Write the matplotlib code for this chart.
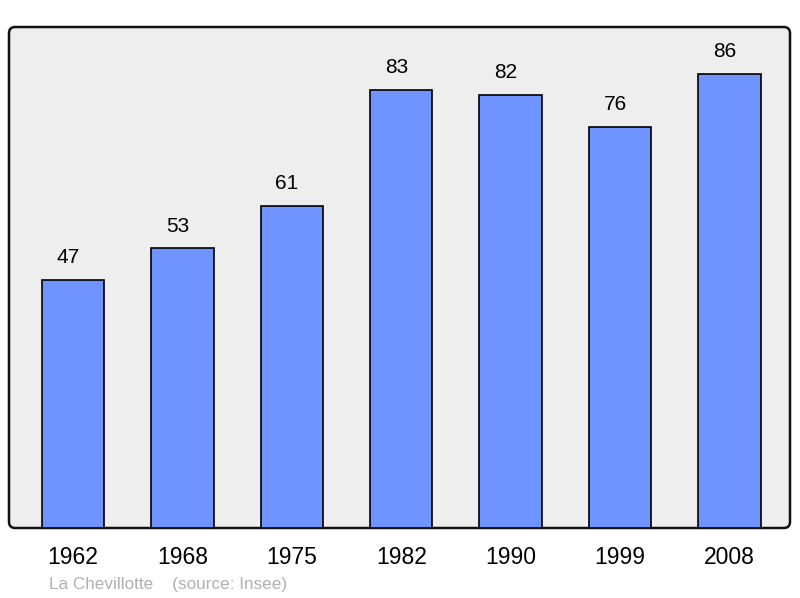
import matplotlib
matplotlib.use("Agg")
import matplotlib.pyplot as plt
from matplotlib.patches import FancyBboxPatch

years = ["1962", "1968", "1975", "1982", "1990", "1999", "2008"]
population = [47, 53, 61, 83, 82, 76, 86]
commune = "La Chevillotte"
source = "(source: Insee)"

plt.rcParams["font.family"] = ["Liberation Sans", "DejaVu Sans"]

fig = plt.figure(figsize=(8, 5.98), dpi=100)
ax = fig.add_axes([9 / 800, 70 / 598, 781 / 800, 501 / 598])
ax.set_facecolor("none")

x = list(range(len(years)))
ax.bar(x, population, width=0.57, color="#7094ff", edgecolor="black", linewidth=1.2, zorder=3)
for xi, v in zip(x, population):
    ax.text(xi - 0.045, v + 2.4, str(v), ha="center", va="bottom", fontsize=15, zorder=4)

ax.set_xlim(-0.585, 6.553)
ax.set_ylim(0, 94.9)
ax.set_yticks([])
ax.set_xticks(x)
ax.set_xticklabels(years, fontsize=16.5)
ax.tick_params(axis="x", length=0, pad=13)
for s in ax.spines.values():
    s.set_visible(False)

frame = FancyBboxPatch((0, 0), 1, 1, boxstyle="round,pad=0,rounding_size=0.008",
                       transform=ax.transAxes, facecolor="#eeeeee", edgecolor="#111111",
                       linewidth=1.8, zorder=0, clip_on=False, mutation_aspect=781 / 501)
ax.add_patch(frame)

fig.text(49 / 800, 1 - 584 / 598, commune + "    " + source, fontsize=12.3,
         color="#b0b0b0", ha="left", va="center")

fig.savefig("out.png", dpi=100)
